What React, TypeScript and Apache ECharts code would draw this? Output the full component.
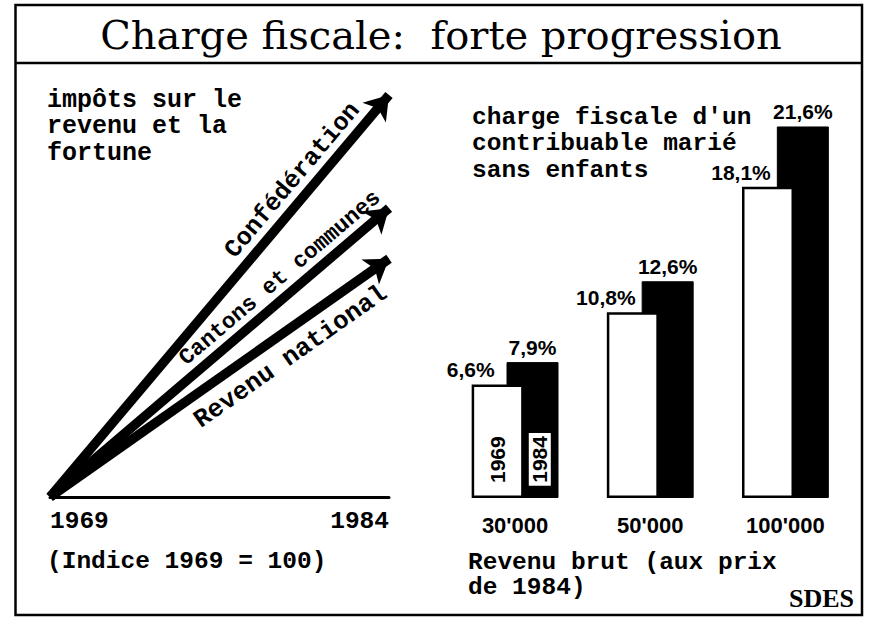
import React, { useEffect, useRef } from 'react';
import * as echarts from 'echarts';

// Left panel: index 1969 = 100
const years = ['1969', '1984'];
const confederation = [100, 370];
const cantonsCommunes = [100, 294];
const revenuNational = [100, 260];
const arrowNames = ['Confédération', 'Cantons et communes', 'Revenu national'];

// Right panel: tax burden of a married taxpayer without children (%)
const incomeCategories = ["30'000", "50'000", "100'000"];
const charge1969 = [6.6, 10.8, 18.1];
const charge1984 = [7.9, 12.6, 21.6];
const barYears = ['1969', '1984'];

const MONO = "'Liberation Mono', 'DejaVu Sans Mono', monospace";
const NARROW = "'Liberation Sans Narrow', 'Liberation Sans', Arial, sans-serif";
const SANS = "'Liberation Sans', Arial, sans-serif";
const SERIF = "'DejaVu Serif', 'Liberation Serif', serif";

const pct = (v: number) => v.toFixed(1).replace('.', ',') + '%';

export default function App() {
  const ref = useRef<HTMLDivElement>(null);

  useEffect(() => {
    if (!ref.current) return;
    const chart = echarts.init(ref.current, undefined, { renderer: 'svg' });

    const lineData = [
      { series: confederation, size: 25, pos: 'insideEndTop', dist: [30, 6] },
      { series: cantonsCommunes, size: 22.5, pos: 'insideEndTop', dist: [0, 6] },
      { series: revenuNational, size: 25.5, pos: 'insideEndBottom', dist: [22, 11] },
    ].map((d, i) => ({
      name: arrowNames[i],
      coords: [
        [0, d.series[0]],
        [1, d.series[1]],
      ],
      label: {
        show: true,
        formatter: '{b}',
        position: d.pos,
        distance: d.dist,
        fontSize: d.size,
        fontFamily: MONO,
        fontWeight: 'bold',
        color: '#000',
      },
    }));

    const option: any = {
      animation: false,
      backgroundColor: '#fff',
      grid: [
        { left: 50, right: 483, top: 50.3, bottom: 121 },
        { left: 447.5, right: 19, top: 68, bottom: 120 },
        { left: 447.5, right: 19, top: 68, bottom: 120 },
      ],
      xAxis: [
        {
          gridIndex: 0,
          type: 'category',
          data: years,
          boundaryGap: false,
          axisLine: { show: true, onZero: false, lineStyle: { color: '#000', width: 3 } },
          axisTick: { show: false },
          splitLine: { show: false },
          axisLabel: {
            color: '#000',
            fontFamily: MONO,
            fontWeight: 'bold',
            fontSize: 24.5,
            margin: 12,
            alignMinLabel: 'left',
            alignMaxLabel: 'right',
          },
        },
        {
          gridIndex: 1,
          type: 'category',
          data: incomeCategories,
          axisLine: { show: false },
          axisTick: { show: false },
          axisLabel: {
            color: '#000',
            fontFamily: SANS,
            fontWeight: 'bold',
            fontSize: 22,
            margin: 16,
          },
        },
        { gridIndex: 2, type: 'category', data: incomeCategories, show: false },
      ],
      yAxis: [
        { gridIndex: 0, type: 'value', min: 100, max: 400, show: false },
        { gridIndex: 1, type: 'value', min: 0, max: 25, show: false },
        { gridIndex: 2, type: 'value', min: 0, max: 25, show: false },
      ],
      series: [
        {
          type: 'lines',
          coordinateSystem: 'cartesian2d',
          xAxisIndex: 0,
          yAxisIndex: 0,
          symbol: ['none', 'arrow'],
          symbolSize: 23,
          lineStyle: { color: '#000', width: 9.5, opacity: 1, curveness: 0 },
          data: lineData,
        },
        {
          type: 'bar',
          name: barYears[0],
          xAxisIndex: 1,
          yAxisIndex: 1,
          data: charge1969,
          barWidth: 52,
          barGap: '-33%',
          z: 3,
          itemStyle: { color: '#fff', borderColor: '#000', borderWidth: 2.5 },
          label: {
            show: true,
            position: 'top',
            distance: 4,
            offset: [-27, 0],
            formatter: (p: any) => pct(p.value),
            fontFamily: NARROW,
            fontWeight: 'bold',
            fontSize: 21,
            color: '#000',
          },
        },
        {
          type: 'bar',
          name: barYears[1],
          xAxisIndex: 1,
          yAxisIndex: 1,
          data: charge1984,
          barWidth: 52,
          barGap: '-33%',
          z: 2,
          itemStyle: { color: '#000', borderColor: '#000', borderWidth: 1 },
          label: {
            show: true,
            position: 'top',
            distance: 4,
            formatter: (p: any) => pct(p.value),
            fontFamily: NARROW,
            fontWeight: 'bold',
            fontSize: 21,
            color: '#000',
          },
        },
        {
          type: 'bar',
          xAxisIndex: 2,
          yAxisIndex: 2,
          data: [charge1969[0], '-', '-'],
          barWidth: 52,
          barGap: '-33%',
          z: 6,
          silent: true,
          itemStyle: { color: 'rgba(0,0,0,0)' },
          label: {
            show: true,
            formatter: barYears[0],
            position: 'insideBottom',
            distance: 15,
            rotate: 90,
            align: 'left',
            verticalAlign: 'middle',
            fontFamily: SANS,
            fontWeight: 'bold',
            fontSize: 21,
            color: '#000',
          },
        },
        {
          type: 'bar',
          xAxisIndex: 2,
          yAxisIndex: 2,
          data: [charge1984[0], '-', '-'],
          barWidth: 52,
          barGap: '-33%',
          z: 6,
          silent: true,
          itemStyle: { color: 'rgba(0,0,0,0)' },
          label: {
            show: true,
            formatter: barYears[1],
            position: ['64%', '91%'],
            rotate: 90,
            align: 'left',
            verticalAlign: 'middle',
            fontFamily: SANS,
            fontWeight: 'bold',
            fontSize: 21,
            color: '#000',
            backgroundColor: '#fff',
            borderColor: '#000',
            borderWidth: 2,
            padding: [1, 3, 0, 3],
          },
        },
      ],
      graphic: [
        {
          type: 'rect',
          silent: true,
          z: 100,
          shape: { x: 15.5, y: 5, width: 846.5, height: 610 },
          style: { fill: 'none', stroke: '#000', lineWidth: 2.5 },
        },
        {
          type: 'line',
          silent: true,
          z: 100,
          shape: { x1: 15.5, y1: 63, x2: 862, y2: 63 },
          style: { stroke: '#000', lineWidth: 2.5 },
        },
        {
          type: 'text',
          x: 441,
          y: 35,
          style: {
            text: 'Charge fiscale:  forte progression',
            fontFamily: SERIF,
            fontSize: 40,
            fill: '#000',
            align: 'center',
            verticalAlign: 'middle',
            textAlign: 'center',
            textVerticalAlign: 'middle',
          },
        },
        {
          type: 'text',
          x: 47,
          y: 87,
          style: {
            text: 'impôts sur le\nrevenu et la\nfortune',
            fontFamily: MONO,
            fontWeight: 'bold',
            fontSize: 25,
            lineHeight: 26.5,
            fill: '#000',
            align: 'left',
            verticalAlign: 'top',
            textAlign: 'left',
            textVerticalAlign: 'top',
          },
        },
        {
          type: 'text',
          x: 47,
          y: 548,
          style: {
            text: '(Indice 1969 = 100)',
            fontFamily: MONO,
            fontWeight: 'bold',
            fontSize: 24.5,
            lineHeight: 26.5,
            fill: '#000',
            align: 'left',
            verticalAlign: 'top',
            textAlign: 'left',
            textVerticalAlign: 'top',
          },
        },
        {
          type: 'text',
          x: 472,
          y: 104,
          style: {
            text: "charge fiscale d'un\ncontribuable marié\nsans enfants",
            fontFamily: MONO,
            fontWeight: 'bold',
            fontSize: 24.5,
            lineHeight: 26.5,
            fill: '#000',
            align: 'left',
            verticalAlign: 'top',
            textAlign: 'left',
            textVerticalAlign: 'top',
          },
        },
        {
          type: 'text',
          x: 468,
          y: 550,
          style: {
            text: 'Revenu brut (aux prix\nde 1984)',
            fontFamily: MONO,
            fontWeight: 'bold',
            fontSize: 24.5,
            lineHeight: 25,
            fill: '#000',
            align: 'left',
            verticalAlign: 'top',
            textAlign: 'left',
            textVerticalAlign: 'top',
          },
        },
        {
          type: 'text',
          x: 854,
          y: 598,
          style: {
            text: 'SDES',
            fontFamily: "'Liberation Serif', serif",
            fontWeight: 'bold',
            fontSize: 26,
            fill: '#000',
            align: 'right',
            verticalAlign: 'middle',
            textAlign: 'right',
            textVerticalAlign: 'middle',
          },
        },
      ],
    };

    chart.setOption(option);
    return () => chart.dispose();
  }, []);

  return (
    <div
      ref={ref}
      style={{ position: 'fixed', left: 0, top: 0, width: 872, height: 618, background: '#fff' }}
    />
  );
}
